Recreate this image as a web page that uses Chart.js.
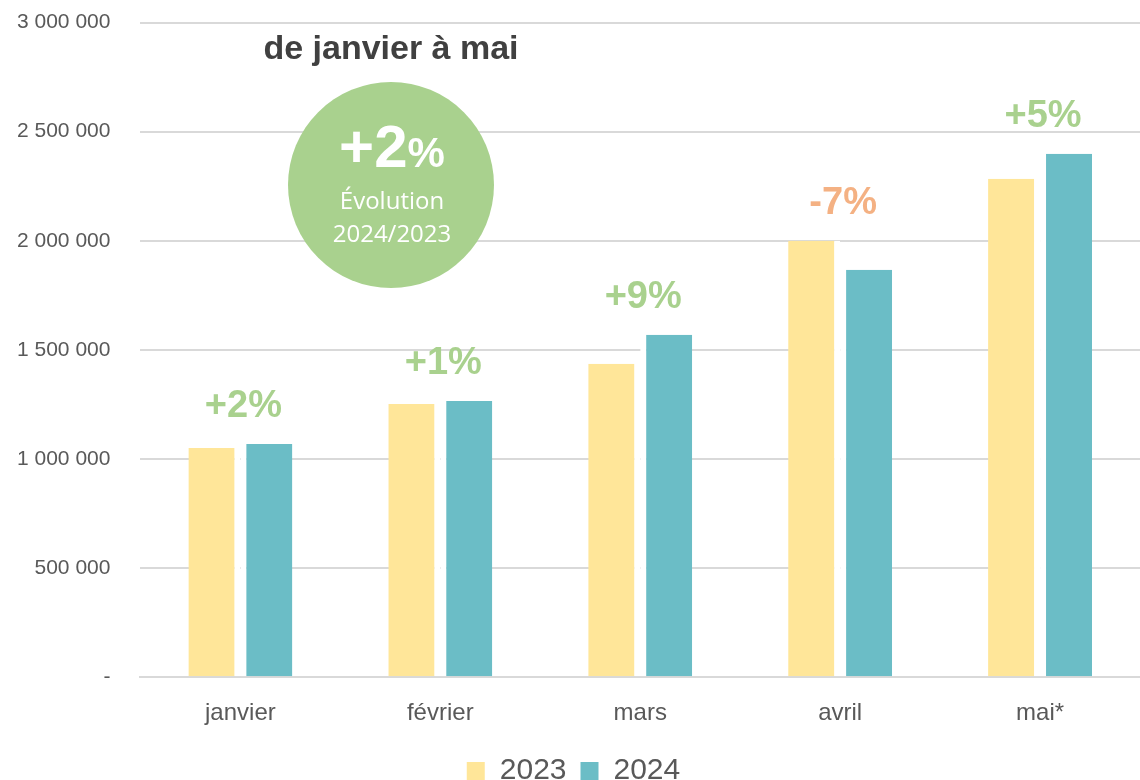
<!DOCTYPE html>
<html>
<head>
<meta charset="utf-8">
<script src="https://cdn.jsdelivr.net/npm/chart.js@4/dist/chart.umd.min.js"></script>
<style>
    html, body { margin: 0; padding: 0; background: #fff; }
    #wrap { width: 1140px; height: 780px; position: relative; }
</style>
</head>
<body>
<div id="wrap"><canvas id="chart"></canvas></div>
<script>
const months = ['janvier', 'février', 'mars', 'avril', 'mai*'];
const values2023 = [1050000, 1252000, 1436000, 2000000, 2284000];
const values2024 = [1069000, 1266000, 1569000, 1867000, 2399000];
const changeLabels = ['+2%', '+1%', '+9%', '-7%', '+5%'];
const yTicks = [0, 500000, 1000000, 1500000, 2000000, 2500000, 3000000];

const FONT = '"Liberation Sans", Arial, sans-serif';
const GREEN = '#a9d18e';
const ORANGE = '#f4b183';

const fmt = v => v === 0 ? '-' : String(v).replace(/\B(?=(\d{3})+(?!\d))/g, ' ');

// Étiquettes d'évolution au-dessus des barres + pastille centrale
const overlay = {
    id: 'overlay',
    afterDatasetsDraw(chart) {
        const { ctx, scales: { x, y } } = chart;
        ctx.save();
        ctx.textAlign = 'center';
        ctx.textBaseline = 'middle';
        ctx.font = 'bold 38px ' + FONT;
        months.forEach((m, i) => {
            const top = y.getPixelForValue(Math.max(values2023[i], values2024[i]));
            ctx.fillStyle = changeLabels[i].startsWith('-') ? ORANGE : GREEN;
            ctx.fillText(changeLabels[i], x.getPixelForValue(i) + 3, top - 37);
        });

        // titre
        ctx.fillStyle = '#404040';
        ctx.font = 'bold 34px ' + FONT;
        ctx.fillText('de janvier à mai', 391, 50);

        // cercle
        ctx.beginPath();
        ctx.arc(391, 185, 103, 0, Math.PI * 2);
        ctx.fillStyle = GREEN;
        ctx.fill();

        ctx.fillStyle = '#fff';
        const big = '+2';
        ctx.font = 'bold 42px ' + FONT;
        const pw = ctx.measureText('%').width;
        ctx.font = 'bold 60px ' + FONT;
        const bw = ctx.measureText(big).width;
        const start = 392 - (bw + pw) / 2;
        ctx.textAlign = 'left';
        ctx.textBaseline = 'alphabetic';
        ctx.fillText(big, start, 167);
        ctx.font = 'bold 42px ' + FONT;
        ctx.fillText('%', start + bw, 167);

        ctx.textAlign = 'center';
        ctx.textBaseline = 'middle';
        ctx.font = '24px "Open Sans", sans-serif';
        ctx.fillText('Évolution', 392, 202);
        ctx.fillText('2024/2023', 392, 235);
        ctx.restore();
    }
};

new Chart(document.getElementById('chart'), {
    type: 'bar',
    data: {
        labels: months,
        datasets: [
            {
                label: '2023',
                data: values2023,
                backgroundColor: '#ffe699',
                borderColor: '#ffffff',
                borderWidth: { right: 6, left: 0, top: 0, bottom: 0 },
                borderSkipped: false,
            },
            {
                label: '2024',
                data: values2024,
                backgroundColor: '#6bbdc6',
                borderColor: '#ffffff',
                borderWidth: { left: 6, right: 0, top: 0, bottom: 0 },
                borderSkipped: false,
            }
        ]
    },
    options: {
        responsive: true,
        maintainAspectRatio: false,
        animation: false,
        categoryPercentage: 0.52,
        barPercentage: 1,
        layout: { padding: { top: 0, right: 0, left: 7, bottom: -16 } },
        plugins: {
            tooltip: { enabled: false },
            legend: {
                position: 'bottom',
                labels: {
                    color: '#595959',
                    font: { family: FONT, size: 30 },
                    boxWidth: 18,
                    boxHeight: 18,
                    padding: 14,
                    generateLabels(chart) {
                        return chart.data.datasets.map((ds, i) => ({
                            text: ds.label,
                            fillStyle: ds.backgroundColor,
                            strokeStyle: ds.backgroundColor,
                            lineWidth: 0,
                            datasetIndex: i,
                            fontColor: '#595959',
                        }));
                    }
                }
            }
        },
        scales: {
            x: {
                grid: { display: false },
                border: { color: '#d9d9d9', width: 2 },
                ticks: { color: '#595959', font: { family: FONT, size: 24 }, padding: 14 }
            },
            y: {
                min: 0,
                max: 3000000,
                afterBuildTicks(axis) { axis.ticks = yTicks.map(v => ({ value: v })); },
                grid: { color: '#d9d9d9', lineWidth: 2, drawTicks: true, tickLength: 20, tickColor: 'rgba(0,0,0,0)' },
                border: { display: false },
                ticks: {
                    color: '#595959',
                    font: { family: FONT, size: 21 },
                    padding: 10,
                    callback: v => fmt(v)
                }
            }
        }
    },
    plugins: [overlay]
});
</script>
</body>
</html>
